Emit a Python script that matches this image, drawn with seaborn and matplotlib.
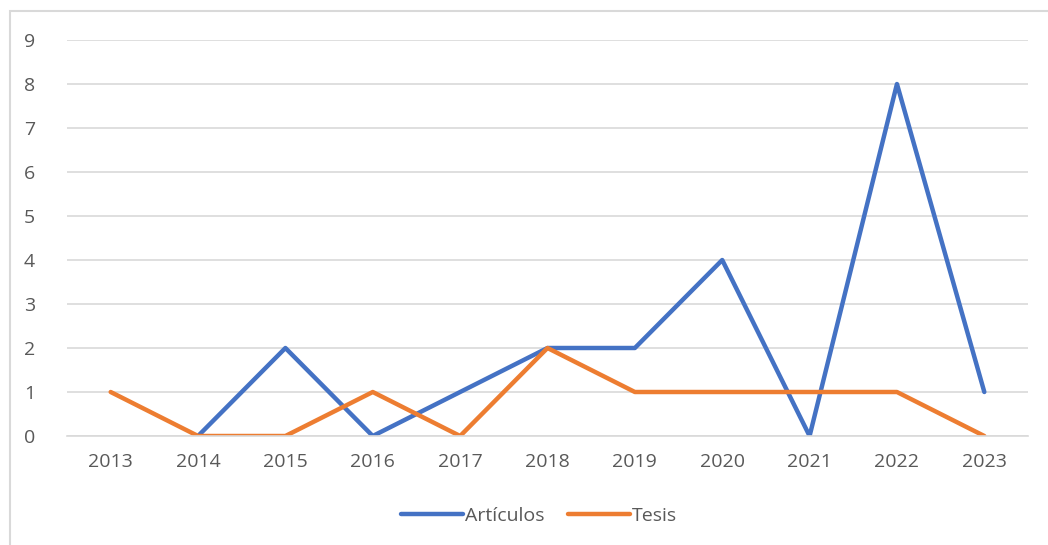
import pandas as pd
import numpy as np
import matplotlib
matplotlib.use("Agg")
import matplotlib.pyplot as plt
import seaborn as sns
from matplotlib.patches import Rectangle
from matplotlib.lines import Line2D

years = ["2013", "2014", "2015", "2016", "2017", "2018", "2019", "2020", "2021", "2022", "2023"]
articulos = [np.nan, 0, 2, 0, 1, 2, 2, 4, 0, 8, 1]
tesis = [1, 0, 0, 1, 0, 2, 1, 1, 1, 1, 0]

df = pd.DataFrame({
    "pos": list(range(len(years))) * 2,
    "valor": articulos + tesis,
    "serie": ["Artículos"] * len(years) + ["Tesis"] * len(years),
})

sns.set_style("white")
plt.rcParams['font.family'] = ['Open Sans', 'DejaVu Sans']

fig = plt.figure(figsize=(10.48, 5.45), dpi=100)
W, H = 1048, 545
ax = fig.add_axes([67 / W, 1 - 436 / H, (1028 - 67) / W, (436 - 40) / H])

# chart frame like the excel one
fig.patches.append(Rectangle((10 / W, -0.1), 1.2, 1 - 11 / H + 0.1, transform=fig.transFigure,
                             fill=False, edgecolor="#d9d9d9", linewidth=1.5))

sns.lineplot(data=df, x="pos", y="valor", hue="serie",
             palette={"Artículos": "#4472C4", "Tesis": "#ED7D31"},
             linewidth=3.2, ax=ax, legend=False)

ax.set_xlim(-0.5, len(years) - 0.5)
ax.set_ylim(0, 9)
ax.set_yticks(range(0, 10))
ax.set_xticks(range(len(years)))
ax.set_xticklabels(years)
ax.yaxis.grid(True, color="#d9d9d9", linewidth=1.2)
ax.set_axisbelow(True)
ax.tick_params(axis="both", colors="#595959", labelsize=14, length=0)
ax.tick_params(axis="x", pad=12)
ax.tick_params(axis="y", pad=23)
ax.set_xlabel("")
ax.set_ylabel("")
sns.despine(ax=ax, left=True, bottom=False)
ax.spines["bottom"].set_color("#d9d9d9")
ax.spines["bottom"].set_linewidth(1.2)

handles = [Line2D([], [], color="#4472C4", linewidth=3.2),
           Line2D([], [], color="#ED7D31", linewidth=3.2)]
leg = fig.legend(handles, ["Artículos", "Tesis"], loc="center", bbox_to_anchor=(539 / W, 1 - 516 / H),
                 ncol=2, frameon=False, fontsize=14, handlelength=3.2, handletextpad=0.1,
                 columnspacing=1.2)
for t in leg.get_texts():
    t.set_color("#595959")

fig.savefig("out.png", dpi=100)
